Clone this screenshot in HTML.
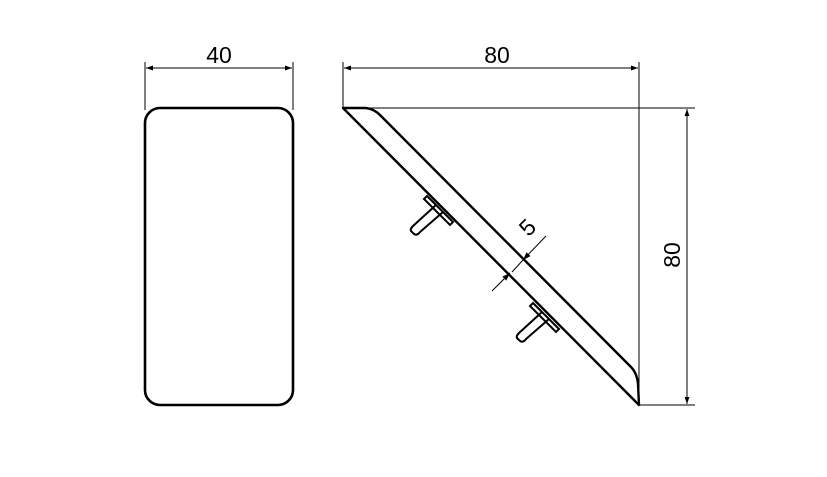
<!DOCTYPE html>
<html><head><style>html,body{margin:0;padding:0;background:#fff}</style></head><body>
<svg width="827" height="472" viewBox="0 0 827 472" xmlns="http://www.w3.org/2000/svg" font-family="Liberation Sans, sans-serif">
<defs><marker id="a" viewBox="0 0 10 10" refX="10" refY="5" markerWidth="14" markerHeight="7" orient="auto-start-reverse" markerUnits="userSpaceOnUse"><path d="M0,1.5L10,5L0,8.5z" fill="#000"/></marker>
<marker id="b" viewBox="0 0 10 10" refX="10" refY="5" markerWidth="14" markerHeight="8" orient="auto" markerUnits="userSpaceOnUse"><path d="M0,1.5L10,5L0,8.5z" fill="#000"/></marker></defs>
<g stroke="#000" fill="none">
<rect x="145" y="108" width="148" height="297" rx="15" stroke-width="2.6"/>
<line x1="145" y1="62" x2="145" y2="110" stroke-width="1"/>
<line x1="293" y1="62" x2="293" y2="110" stroke-width="1"/>
<line x1="146" y1="68" x2="292" y2="68" stroke-width="1" marker-start="url(#a)" marker-end="url(#a)"/>
<line x1="343" y1="62" x2="343" y2="108" stroke-width="1"/>
<line x1="639" y1="62" x2="639" y2="406" stroke-width="1"/>
<line x1="344" y1="68" x2="638" y2="68" stroke-width="1" marker-start="url(#a)" marker-end="url(#a)"/>
<line x1="343" y1="108" x2="695" y2="108" stroke-width="1"/>
<line x1="639" y1="405" x2="695" y2="405" stroke-width="1"/>
<line x1="687" y1="109" x2="687" y2="404" stroke-width="1" marker-start="url(#a)" marker-end="url(#a)"/>
<path d="M343,108 L366,108 Q374,109 380,115 L631,367 Q637,373 638,384 L639,405 Z" stroke-width="2.4" stroke-linejoin="round"/>
<g stroke-width="2">
<path d="M427,196 L453,222 L450,225 L424,199 Z"/>
<path d="M436,205 L413,226 Q409,230 412,232 L414,234 Q417,236 420,232 L443,212"/>
<path d="M533,303 L559,329 L556,332 L530,306 Z"/>
<path d="M542,312 L519,333 Q515,337 518,339 L520,341 Q523,343 526,339 L549,319"/>
</g>
<line x1="546" y1="236" x2="523" y2="260" stroke-width="1" marker-end="url(#b)"/>
<line x1="523" y1="260" x2="512" y2="272" stroke-width="1"/>
<line x1="492" y1="291" x2="510" y2="273" stroke-width="1" marker-end="url(#b)"/>
</g>
<g font-size="23" fill="#000" text-anchor="middle">
<text x="219" y="63">40</text>
<text x="497" y="63">80</text>
<text transform="translate(680,255) rotate(-90)">80</text>
<text transform="translate(533,233) rotate(-45)">5</text>
</g>
</svg>
</body></html>
